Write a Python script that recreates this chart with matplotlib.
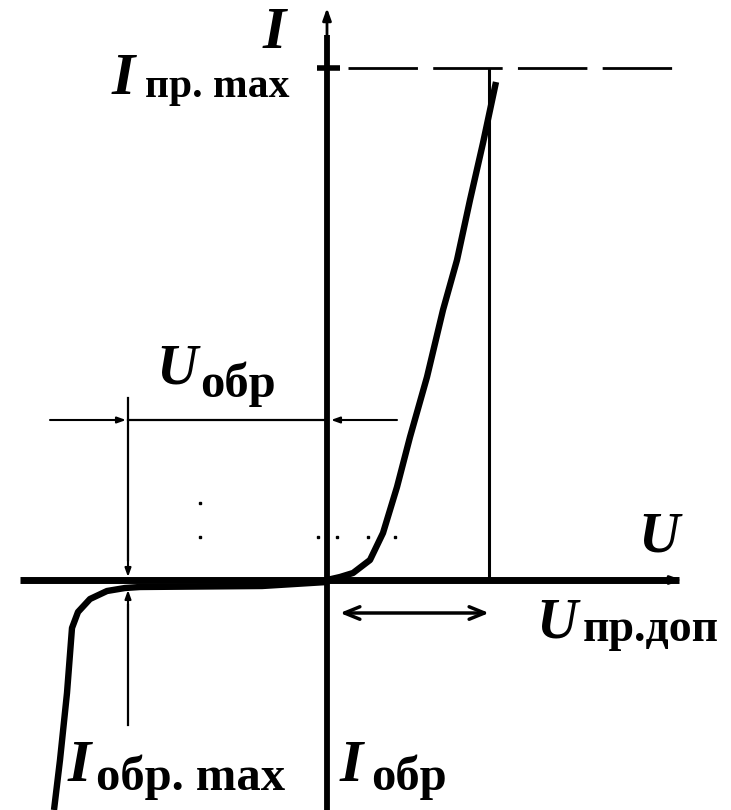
import numpy as np
import matplotlib.pyplot as plt

# diode I-V curve, units = pixels from the axis origin (U right, I up)
fwd_u = [0, 13, 26, 43, 56, 70, 83, 100, 116, 130, 143, 156, 169]
fwd_i = [0, 3, 7, 20, 47, 93, 143, 203, 270, 320, 380, 437, 498]

rev_u = [0, -65, -187, -202, -220, -237, -249, -255, -260, -267, -273]
rev_i = [-2, -6, -7, -8, -11, -19, -32, -48, -113, -180, -230]

i_max = 512        # I пр.max level
u_fwd_max = 162    # U пр.доп
u_rev = -199       # U обр
u_rev_level = 160  # height of the U обр dimension line
dim_fwd_level = -33

dots_u = [-127, -9, 10, 41, 68]
dots_i = [43, 43, 43, 43, 43]

plt.rcParams['font.family'] = ['Liberation Serif', 'DejaVu Serif']

fig = plt.figure(figsize=(7.31, 8.10), dpi=100)
ax = fig.add_axes([0, 0, 1, 1])
ax.set_xlim(-327, 404)
ax.set_ylim(-230, 580)
ax.axis('off')


def arrow(x0, y0, x1, y1, lw=1.5, style='-|>,head_length=0.5,head_width=0.18'):
    ax.annotate('', xy=(x1, y1), xytext=(x0, y0),
                arrowprops=dict(arrowstyle=style, lw=lw, color='black',
                                shrinkA=0, shrinkB=0))


# axes
ax.plot([-307, 352], [0, 0], color='black', lw=5, solid_capstyle='butt')
arrow(330, 0, 355, 0, lw=2, style='-|>,head_length=0.7,head_width=0.25')
ax.plot([0, 0], [-230, 545], color='black', lw=4.2, solid_capstyle='butt')
arrow(0, 540, 0, 572, lw=2, style='-|>,head_length=0.7,head_width=0.25')

# I max tick and dashed level
ax.plot([-10, 13], [i_max, i_max], color='black', lw=4, solid_capstyle='butt')
ax.plot([21, 353], [i_max, i_max], color='black', lw=2,
        dashes=(25, 5.5), solid_capstyle='butt', dash_capstyle='butt')

# forward limit line
ax.plot([u_fwd_max, u_fwd_max], [0, i_max - 2], color='black', lw=2.2)

# curves
ax.plot(fwd_u, fwd_i, color='black', lw=4.6, solid_capstyle='butt',
        solid_joinstyle='round')
ax.plot(rev_u, rev_i, color='black', lw=4.6, solid_capstyle='butt',
        solid_joinstyle='round')

# U обр dimension
ax.plot([u_rev, 0], [u_rev_level, u_rev_level], color='black', lw=1.6)
arrow(-277, u_rev_level, u_rev - 2, u_rev_level)
arrow(70, u_rev_level, 4, u_rev_level)

# I обр.max arrows
ax.plot([u_rev, u_rev], [182, 20], color='black', lw=1.6)
arrow(u_rev, 40, u_rev, 3)
ax.plot([u_rev, u_rev], [-145, -25], color='black', lw=1.6)
arrow(u_rev, -40, u_rev, -10)

# U пр.доп double arrow
ax.annotate('', xy=(u_fwd_max, dim_fwd_level), xytext=(13, dim_fwd_level),
            arrowprops=dict(arrowstyle='<->,head_length=1.1,head_width=0.45',
                            lw=2.5, color='black', shrinkA=0, shrinkB=0))

# leftover dots
ax.plot(dots_u, dots_i, ls='none', marker='s', ms=1.5, color='black')
ax.plot([-127], [77], ls='none', marker='s', ms=1.5, color='black')


def label(x, y, main, sub, x_sub, y_sub, size=43, sub_size=32):
    # x, y in image pixels (from top-left)
    ax.text(x - 327, 580 - y, main, fontsize=size, fontweight='bold',
            fontstyle='italic', ha='left', va='baseline')
    if sub:
        ax.text(x_sub - 327, 580 - y_sub, sub, fontsize=sub_size,
                fontweight='bold', ha='left', va='baseline')


label(263, 48, 'I', '', 0, 0)
label(112, 94, 'I', 'пр. max', 145, 97, sub_size=30)
label(156, 383, 'U', 'обр', 200, 397, size=41, sub_size=35)
label(638, 552, 'U', '', 0, 0, size=41)
label(536, 637, 'U', 'пр.доп', 583, 641, size=41, sub_size=33)
label(68, 781, 'I', 'обр. max', 96, 790, sub_size=35)
label(340, 781, 'I', 'обр', 371, 790, sub_size=35)

fig.savefig('out.png', dpi=100)
